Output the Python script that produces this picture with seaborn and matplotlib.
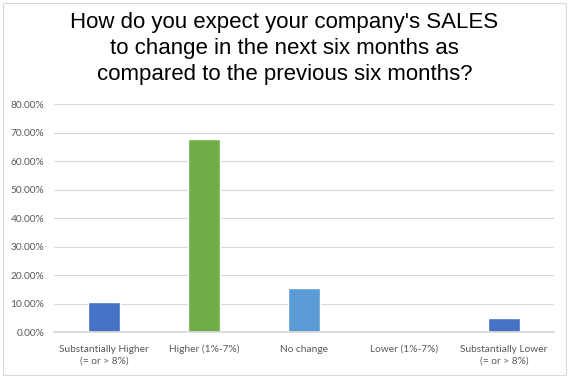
import pandas as pd
import seaborn as sns
import matplotlib.pyplot as plt
from matplotlib.patches import Rectangle
from matplotlib.ticker import PercentFormatter

# answers and share of respondents
categories = ["Substantially Higher\n(= or > 8%)", "Higher (1%-7%)", "No change",
              "Lower (1%-7%)", "Substantially Lower\n(= or > 8%)"]
shares = [0.105, 0.680, 0.156, 0.0, 0.051]
bar_colors = ["#4472C4", "#70AD47", "#5B9BD5", "#4472C4", "#4472C4"]

title = ("How do you expect your company's SALES\n"
         "to change in the next six months as\n"
         "compared to the previous six months?")

sales = pd.DataFrame({"answer": categories, "share": shares})

sns.set_theme(style="white")
plt.rcParams['font.family'] = ['Lato', 'DejaVu Sans']

fig = plt.figure(figsize=(5.69, 3.78), dpi=100)
ax = fig.add_axes([0.0949, 0.1209, 0.8787, 0.6027])

sns.barplot(data=sales, x="answer", y="share", hue="answer", palette=bar_colors,
            legend=False, width=0.313, saturation=1, ax=ax)

ax.set_ylim(0, 0.8)
ax.set_yticks([i / 10 for i in range(9)])
ax.yaxis.set_major_formatter(PercentFormatter(xmax=1, decimals=2))
ax.grid(axis="y", color="#d9d9d9", linewidth=0.8)
ax.set_axisbelow(True)
for side in ["top", "right", "left"]:
    ax.spines[side].set_visible(False)
ax.spines["bottom"].set_color("#d9d9d9")
ax.tick_params(axis="both", length=0, labelsize=7.3, colors="#595959")
ax.tick_params(axis="y", pad=7)
ax.tick_params(axis="x", pad=9)
for lbl in ax.get_xticklabels():
    lbl.set_linespacing(1.35)
ax.set_xlabel("")
ax.set_ylabel("")

fig.text(0.50, 0.968, title, ha="center", va="top", fontsize=16,
         family="Liberation Sans", linespacing=1.32, color="black")

# light frame round the whole chart
fig.patches.append(Rectangle((3 / 569, 3 / 378), 563 / 569, 372 / 378,
                             transform=fig.transFigure, fill=False,
                             edgecolor="#d9d9d9", linewidth=0.8))

fig.savefig("out.png", dpi=100)
